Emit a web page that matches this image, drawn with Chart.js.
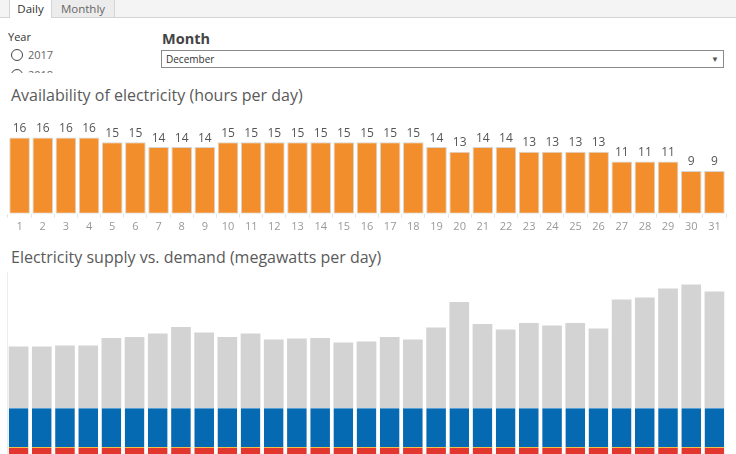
<!DOCTYPE html>
<html>
<head>
<meta charset="utf-8">
<script src="https://cdn.jsdelivr.net/npm/chart.js@4.4.1/dist/chart.umd.min.js"></script>
<style>
  html, body { margin:0; padding:0; }
  body { width:736px; height:454px; overflow:hidden; position:relative; background:#fff; font-family:"Open Sans", Lato, sans-serif; }
  .tabs { position:absolute; left:0; top:0; width:736px; height:17px; background:#f4f4f4; border-bottom:1px solid #d4d4d4; }
  .tab { position:absolute; top:0; height:17px; font-size:11.5px; line-height:17px; text-align:center; box-sizing:border-box; }
  .tab.active { left:9px; width:43px; background:#fff; color:#333; border-left:1px solid #d4d4d4; border-right:1px solid #d4d4d4; height:18px; }
  .tab.inactive { left:52px; width:63px; background:#ececec; color:#666; border-right:1px solid #d4d4d4; }
  .year { position:absolute; left:8px; top:29px; font-size:11px; color:#333; }
  .radios { position:absolute; left:11px; top:47px; width:120px; height:26px; overflow:hidden; }
  .radio { height:20px; font-size:11px; color:#666; line-height:16px; position:relative; padding-left:17px; }
  .radio:before { content:""; position:absolute; left:0; top:2px; width:10px; height:10px; border:1px solid #444; border-radius:50%; }
  .month { position:absolute; left:162px; top:29px; font-size:14.5px; font-weight:bold; color:#444; }
  .select { position:absolute; left:161px; top:50px; width:563px; height:18px; box-sizing:border-box; border:1px solid #8a8a8a; font-size:10px; color:#333; line-height:16px; padding-left:4px; }
  .select span { position:absolute; right:4px; top:0; font-size:8px; color:#555; }
  .title { position:absolute; left:11px; font-size:16px; color:#5a5a5a; white-space:nowrap; }
  #c1wrap { position:absolute; left:0; top:108px; width:736px; height:127px; }
  #c2wrap { position:absolute; left:0; top:272px; width:736px; height:208px; }
</style>
</head>
<body>
<div class="tabs"><div class="tab active">Daily</div><div class="tab inactive">Monthly</div></div>
<div class="year">Year</div>
<div class="radios"><div class="radio">2017</div><div class="radio">2018</div></div>
<div class="month">Month</div>
<div class="select">December<span>&#9660;</span></div>
<div class="title" style="top:84px;">Availability of electricity (hours per day)</div>
<div class="title" style="top:246px;">Electricity supply vs. demand (megawatts per day)</div>
<div id="c1wrap"><canvas id="c1"></canvas></div>
<div id="c2wrap"><canvas id="c2"></canvas></div>
<script>
const days = ["1","2","3","4","5","6","7","8","9","10","11","12","13","14","15","16","17","18","19","20","21","22","23","24","25","26","27","28","29","30","31"];
const hoursPerDay = [16,16,16,16,15,15,14,14,14,15,15,15,15,15,15,15,15,15,14,13,14,14,13,13,13,13,11,11,11,9,9];
const otherSupply = [330,330,330,330,330,330,330,330,330,330,330,330,330,330,330,330,330,330,330,330,330,330,330,330,330,330,330,330,330,330,330];
const gridSupply = [390,390,390,390,390,390,390,390,390,390,390,390,390,390,390,390,390,390,390,390,390,390,390,390,390,390,390,390,390,390,390];
const unmetDemand = [615,615,625,625,700,710,745,810,755,710,745,685,695,700,655,665,710,685,805,1060,840,785,850,825,850,795,1085,1105,1195,1235,1165];

const valueLabels = {
  id:'valueLabels',
  afterDatasetsDraw(chart){
    const ctx = chart.ctx;
    ctx.save();
    ctx.font = '12px "Open Sans", sans-serif';
    ctx.fillStyle = '#555';
    ctx.textAlign = 'center';
    ctx.textBaseline = 'bottom';
    chart.getDatasetMeta(0).data.forEach((el,i)=>{
      ctx.fillText(String(chart.data.datasets[0].data[i]), el.x, el.y - 3);
    });
    ctx.restore();
  }
};

new Chart(document.getElementById('c1'), {
  type:'bar',
  data:{ labels:days, datasets:[{ label:'Hours per day', data:hoursPerDay, backgroundColor:'#f28e2b', borderColor:'#d6d6d6', borderWidth:1, borderSkipped:false, categoryPercentage:1, barPercentage:0.89 }]},
  options:{
    responsive:true, maintainAspectRatio:false, animation:false,
    layout:{ padding:{ left:8, right:10, top:0, bottom:0 } },
    plugins:{ legend:{display:false}, tooltip:{enabled:false} },
    scales:{
      x:{ grid:{ display:true, offset:true, drawOnChartArea:false, tickLength:4, color:'#e6e6e6' }, border:{ display:false },
          ticks:{ color:'#999', font:{ size:11, family:'"Open Sans", sans-serif' }, padding:2, maxRotation:0, autoSkip:false } },
      y:{ display:false, min:0, max:22.2 }
    }
  },
  plugins:[valueLabels]
});

new Chart(document.getElementById('c2'), {
  type:'bar',
  data:{ labels:days, datasets:[
    { label:'Other supply', data:otherSupply, backgroundColor:'#e2372f', borderColor:'#f2c04a', borderWidth:{top:1,left:0,right:0,bottom:0}, borderSkipped:false, categoryPercentage:1, barPercentage:0.85 },
    { label:'Grid supply', data:gridSupply, backgroundColor:'#066ab3', borderColor:'#5c9fd3', borderWidth:{top:1,left:0,right:0,bottom:0}, borderSkipped:false, categoryPercentage:1, barPercentage:0.85 },
    { label:'Unmet demand', data:unmetDemand, backgroundColor:'#d3d3d3', borderWidth:0, categoryPercentage:1, barPercentage:0.85 }
  ]},
  options:{
    responsive:true, maintainAspectRatio:false, animation:false,
    layout:{ padding:{ left:7, right:10, top:0, bottom:0 } },
    plugins:{ legend:{display:false}, tooltip:{enabled:false} },
    scales:{
      x:{ display:false, stacked:true },
      y:{ stacked:true, min:0, max:2080, grid:{display:false, drawTicks:false}, ticks:{display:false}, border:{ color:'#ececec' } }
    }
  }
});
</script>
</body>
</html>
